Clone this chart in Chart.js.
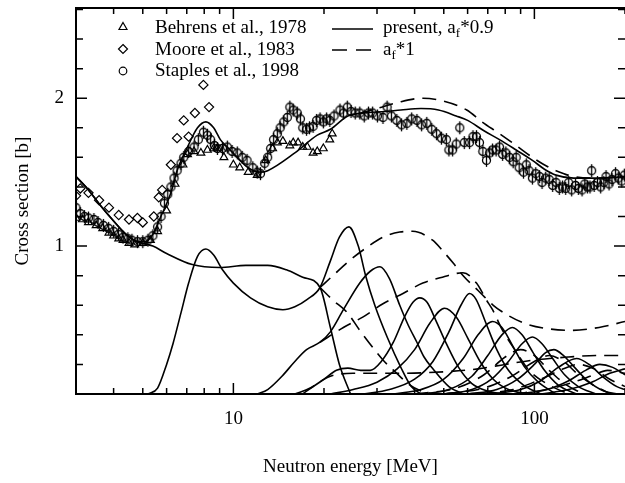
<!DOCTYPE html>
<html>
<head>
<meta charset="utf-8">
<script src="https://cdn.jsdelivr.net/npm/chart.js@4/dist/chart.umd.min.js"></script>
<style>
  body { margin: 0; background: #fff; }
  #wrap { width: 625px; height: 483px; }
</style>
</head>
<body>
<div id="wrap"><canvas id="chart-area" width="625" height="483"></canvas></div>
<script>
// measured points [energy MeV, cross section b]
var behrens = [[3.0,1.19],[3.15,1.18],[3.3,1.16],[3.5,1.14],[3.68,1.12],[3.86,1.09],[4.0,1.07],[4.16,1.05],[4.3,1.04],[4.5,1.02],[4.7,1.01],[5.0,1.02],[5.3,1.04],[5.6,1.1],[6.0,1.24],[6.4,1.42],[6.8,1.55],[7.04,1.62],[7.4,1.64],[7.8,1.63],[8.2,1.65],[8.6,1.66],[8.85,1.66],[9.3,1.6],[10,1.55],[10.5,1.53],[11.2,1.5],[12,1.48],[12.8,1.58],[13.5,1.66],[14.0,1.70],[14.6,1.71],[15.4,1.68],[15.8,1.70],[16.4,1.7],[17.0,1.67],[17.6,1.67],[18.4,1.63],[19.0,1.64],[19.9,1.66],[20.9,1.72],[21.3,1.76]];
var moore = [[3.0,1.34],[3.1,1.39],[3.3,1.36],[3.58,1.31],[3.86,1.26],[4.16,1.21],[4.5,1.18],[4.8,1.19],[5.0,1.16],[5.44,1.2],[5.65,1.33],[5.8,1.38],[6.2,1.55],[6.5,1.73],[6.84,1.85],[7.1,1.74],[7.45,1.9],[7.95,2.09],[8.3,1.94]];
var staples = [[3.0,1.26],[3.1,1.22],[3.2,1.2],[3.3,1.19],[3.44,1.18],[3.55,1.16],[3.7,1.14],[3.85,1.12],[4.0,1.1],[4.15,1.08],[4.3,1.06],[4.46,1.05],[4.6,1.04],[4.8,1.03],[5.0,1.03],[5.2,1.04],[5.4,1.07],[5.6,1.13],[5.75,1.2],[5.9,1.29],[6.05,1.35],[6.2,1.40],[6.35,1.46],[6.5,1.51],[6.7,1.56],[6.84,1.60],[7.1,1.64],[7.4,1.67],[7.65,1.72],[7.95,1.77],[8.2,1.75],[8.4,1.72],[8.65,1.68],[8.85,1.66],[9.2,1.66],[9.55,1.67],[9.9,1.64],[10.3,1.63],[10.7,1.6],[11.1,1.58],[11.6,1.53],[12.0,1.50],[12.3,1.49],[12.7,1.56],[13.0,1.6],[13.3,1.66],[13.6,1.72],[14.0,1.76],[14.3,1.80],[14.7,1.84],[15.1,1.87],[15.4,1.94],[15.8,1.92],[16.3,1.9],[16.7,1.86],[17.0,1.8],[17.5,1.79],[17.9,1.8],[18.4,1.81],[18.9,1.85],[19.4,1.86],[19.9,1.84],[20.4,1.86],[20.9,1.85],[21.6,1.88],[22.6,1.92],[23.2,1.9],[23.9,1.94],[24.6,1.91],[25.4,1.9],[26.3,1.9],[27.2,1.88],[28.1,1.9],[29.0,1.9],[30.1,1.88],[31.4,1.87],[32.4,1.94],[33.5,1.88],[34.9,1.85],[36.2,1.82],[37.7,1.83],[39.1,1.86],[40.7,1.85],[42.2,1.82],[43.9,1.83],[45.6,1.79],[47.3,1.76],[49.1,1.73],[51,1.72],[52,1.65],[53.5,1.65],[55,1.69],[56.5,1.80],[58.5,1.7],[60.9,1.7],[62.5,1.74],[64.2,1.74],[65.7,1.7],[67.4,1.64],[69.3,1.58],[71,1.63],[72.6,1.65],[74.6,1.65],[76.6,1.67],[78.4,1.62],[80.4,1.63],[82.7,1.6],[85,1.57],[87,1.6],[89,1.53],[92,1.5],[94,1.55],[96,1.51],[98.5,1.46],[101,1.49],[104,1.47],[106,1.43],[109,1.46],[112,1.45],[115,1.41],[118,1.43],[121,1.39],[124,1.4],[127,1.39],[130,1.43],[133,1.38],[137,1.41],[140,1.39],[144,1.38],[147,1.42],[150,1.4],[153,1.4],[155,1.51],[158,1.41],[162,1.43],[166,1.4],[170,1.43],[173,1.47],[177,1.42],[181,1.45],[186,1.49],[190,1.46],[195,1.44],[199,1.48]];

// calculated curves, af*0.9 (solid)
var totalSolid = [[3,1.47],[3.3,1.38],[3.6,1.28],[4,1.17],[4.4,1.08],[4.8,1.03],[5.1,1.03],[5.4,1.08],[5.74,1.2],[6.2,1.36],[6.5,1.51],[7.04,1.67],[7.6,1.8],[8.1,1.84],[8.6,1.8],[9.05,1.72],[9.55,1.67],[10.3,1.6],[11.2,1.53],[12.3,1.5],[13,1.51],[16,1.63],[19,1.75],[21,1.79],[24,1.88],[27,1.9],[32,1.91],[36,1.92],[42,1.93],[48,1.92],[55,1.88],[60,1.85],[68,1.78],[76.6,1.72],[87,1.65],[98.5,1.58],[108,1.52],[118,1.48],[135,1.46],[164,1.46],[200,1.47]];
var chance1 = [[3,1.47],[3.3,1.38],[3.6,1.28],[4,1.17],[4.4,1.08],[4.8,1.03],[5.4,1.0],[6,0.95],[7.3,0.875],[9,0.855],[11,0.87],[13,0.87],[15,0.84],[17,0.79],[19.4,0.72],[21,0.45],[22.5,0.2],[24.5,0]];
var chance2 = [[5.2,0],[5.6,0.04],[6.0,0.2],[6.3,0.34],[6.7,0.55],[7.1,0.75],[7.6,0.93],[8.1,0.98],[8.6,0.94],[9.2,0.84],[10,0.75],[11.4,0.65],[13,0.59],[14.6,0.57],[16,0.59],[17.6,0.64],[19.4,0.72],[21,0.9],[22.5,1.06],[24.2,1.13],[26,1.0],[27.5,0.8],[29.5,0.6],[32.5,0.38],[36,0.18],[39,0.05],[42,0]];
var chance3 = [[12,0],[13,0.03],[14.5,0.12],[16,0.22],[17.5,0.3],[19.4,0.35],[21,0.42],[23.2,0.57],[26.3,0.75],[28.5,0.83],[30.7,0.86],[33,0.78],[35.7,0.6],[38,0.47],[40.7,0.35],[43,0.25],[46,0.17],[52,0.05],[58,0]];
var chance4 = [[16,0],[18,0.04],[20,0.1],[22,0.16],[24,0.175],[26.5,0.16],[28.5,0.16],[31,0.22],[34,0.35],[37,0.52],[39.5,0.62],[41.6,0.65],[44,0.62],[47,0.5],[51,0.34],[56,0.18],[62,0.07],[70,0.02],[80,0]];
var chance5 = [[21,0],[25,0.03],[30,0.08],[35,0.17],[40,0.3],[45,0.48],[50.3,0.58],[55,0.52],[60,0.38],[66,0.22],[73,0.1],[82,0.03],[95,0]];
var chance6 = [[27,0],[33,0.03],[40,0.1],[46,0.22],[52,0.42],[57,0.6],[60.9,0.68],[64,0.64],[69,0.48],[75,0.3],[82,0.16],[92,0.06],[105,0]];
var chance7 = [[34,0],[42,0.03],[50,0.1],[58,0.24],[65,0.4],[72.6,0.49],[78,0.45],[85,0.32],[93,0.18],[103,0.08],[118,0]];
var chance8 = [[42,0],[52,0.03],[62,0.12],[70,0.26],[78,0.4],[84.5,0.45],[91,0.4],[99,0.28],[108,0.16],[120,0.06],[138,0]];
var chance9 = [[50,0],[62,0.03],[72,0.1],[82,0.22],[91,0.34],[98.5,0.385],[106,0.34],[115,0.24],[126,0.13],[140,0.05],[160,0]];
var chance10 = [[60,0],[75,0.03],[88,0.1],[100,0.2],[109,0.28],[116,0.3],[125,0.26],[136,0.18],[150,0.09],[170,0.02],[190,0]];
var chance11 = [[72,0],[90,0.03],[105,0.09],[120,0.18],[138,0.24],[152,0.2],[168,0.12],[188,0.05],[200,0.03]];
var chance12 = [[88,0],[110,0.03],[130,0.09],[148,0.16],[165,0.2],[182,0.18],[200,0.13]];
var chance13 = [[105,0],[130,0.03],[155,0.08],[178,0.14],[200,0.17]];

// calculated curves, af*1 (dashed), where they differ from the solid ones
var totalDashed = [[26,1.895],[30,1.93],[35,1.97],[42.6,2.0],[50,1.98],[59.6,1.92],[67,1.84],[76.6,1.76],[87,1.68],[98.5,1.6],[110,1.54],[118,1.51],[135,1.47],[160,1.46],[200,1.47]];
var dashA = [[19.4,0.72],[21.4,0.80],[24.4,0.905],[27.7,0.99],[31.4,1.06],[35.7,1.095],[39.4,1.10],[45.9,1.04],[50,0.96],[54,0.88],[58,0.8],[65,0.7],[73,0.6],[82,0.53],[95,0.47],[112,0.44],[133,0.43],[164,0.45],[200,0.49]];
var dashB = [[19.4,0.72],[21.4,0.635],[23.9,0.55],[26.3,0.43],[28.4,0.34],[31.4,0.23],[34.9,0.14],[38,0.07],[42,0.02],[46,0]];
var dashC = [[19.4,0.35],[23.2,0.45],[26.9,0.52],[31.4,0.61],[36.6,0.68],[42.6,0.75],[49.5,0.79],[57.9,0.82],[64.2,0.75],[69.3,0.635],[72.6,0.57],[78.4,0.43],[86,0.30],[96,0.16],[112,0.06],[130,0]];
var dashD = [[17,0],[19,0.07],[21,0.12],[25,0.14],[35,0.14],[50,0.15],[65,0.17],[80,0.2],[100,0.23],[130,0.25],[160,0.26],[200,0.26]];
var dashE = [[40,0],[55,0.04],[68,0.13],[80,0.25],[90,0.3],[100,0.26],[112,0.16],[126,0.07],[145,0]];
var dashF = [[50,0],[68,0.04],[84,0.12],[100,0.22],[112,0.26],[125,0.22],[140,0.13],[160,0.05],[180,0]];
var dashG = [[65,0],[85,0.03],[105,0.1],[125,0.17],[140,0.2],[158,0.17],[178,0.1],[200,0.05]];
var dashH = [[85,0],[110,0.03],[135,0.08],[158,0.13],[175,0.16],[200,0.14]];

var xTickValues = [3,4,5,6,7,8,9,10,20,30,40,50,60,70,80,90,100,200];
var xTickLabels = [10, 100];
var yTickValues = [0.2,0.4,0.6,0.8,1,1.2,1.4,1.6,1.8,2,2.2,2.4,2.6];
var yTickLabels = [1, 2];

Chart.defaults.font.family = '"Liberation Serif", "Times New Roman", serif';
Chart.defaults.color = '#000';

function pts(arr) {
  return arr.map(function(p) { return {x: p[0], y: p[1]}; });
}
function solid(arr) {
  return {data: pts(arr), borderColor: '#000', borderWidth: 1.6, pointRadius: 0,
          fill: false, cubicInterpolationMode: 'monotone'};
}
function dashed(arr) {
  var d = solid(arr);
  d.borderDash = [14, 8];
  return d;
}
function markers(arr, style, r) {
  return {data: pts(arr), showLine: false, pointStyle: style, pointRadius: r,
          pointBorderWidth: 1.2, pointBorderColor: '#000', borderColor: '#000',
          pointBackgroundColor: 'rgba(0,0,0,0)', backgroundColor: 'rgba(0,0,0,0)'};
}
// keep the plot box where it is in the figure
function noPad(s) {
  s.paddingTop = 0; s.paddingBottom = 0; s.paddingLeft = 0; s.paddingRight = 0;
}

// Staples symbol: open circle with its error bar
var staplesMark = document.createElement('canvas');
staplesMark.width = 11; staplesMark.height = 15;
(function() {
  var g = staplesMark.getContext('2d');
  g.strokeStyle = '#000'; g.lineWidth = 1.3;
  g.beginPath(); g.arc(5.5, 7.5, 4, 0, 2 * Math.PI); g.stroke();
  g.beginPath(); g.moveTo(5.5, 1); g.lineTo(5.5, 14); g.stroke();
})();

var datasets = [
  markers(behrens, 'triangle', 4.5),
  markers(moore, 'rectRot', 4.6),
  markers(staples, staplesMark, 5)
];
[totalSolid, chance1, chance2, chance3, chance4, chance5, chance6, chance7,
 chance8, chance9, chance10, chance11, chance12, chance13].forEach(function(c) { datasets.push(solid(c)); });
[totalDashed, dashA, dashB, dashC, dashD, dashE, dashF, dashG, dashH].forEach(function(c) { datasets.push(dashed(c)); });

// frame with inward ticks, plus the legend
var framePlugin = {
  id: 'frame',
  afterDraw: function(chart) {
    var ctx = chart.ctx, a = chart.chartArea, x = chart.scales.x, y = chart.scales.y;
    ctx.save();
    ctx.strokeStyle = '#000';
    ctx.lineWidth = 2;
    ctx.beginPath();
    ctx.moveTo(a.right, a.top); ctx.lineTo(a.left, a.top);
    ctx.lineTo(a.left, a.bottom); ctx.lineTo(a.right, a.bottom);
    ctx.stroke();
    ctx.lineWidth = 1.5;
    ctx.beginPath();
    yTickValues.forEach(function(v) {
      var p = y.getPixelForValue(v);
      var len = yTickLabels.indexOf(v) >= 0 ? 11 : 7;
      ctx.moveTo(a.left, p); ctx.lineTo(a.left + len, p);
      ctx.moveTo(a.right, p); ctx.lineTo(a.right - len, p);
    });
    xTickValues.forEach(function(v) {
      var p = x.getPixelForValue(v);
      var len = xTickLabels.indexOf(v) >= 0 ? 11 : 6;
      ctx.moveTo(p, a.bottom); ctx.lineTo(p, a.bottom - len);
      ctx.moveTo(p, a.top); ctx.lineTo(p, a.top + len);
    });
    ctx.stroke();

    // legend
    ctx.fillStyle = '#000';
    ctx.lineWidth = 1.2;
    ctx.beginPath();
    ctx.moveTo(123, 22.5); ctx.lineTo(127, 29.5); ctx.lineTo(119, 29.5); ctx.closePath();
    ctx.moveTo(123, 44.5); ctx.lineTo(127.5, 49); ctx.lineTo(123, 53.5); ctx.lineTo(118.5, 49); ctx.closePath();
    ctx.stroke();
    ctx.beginPath();
    ctx.arc(123, 71, 3.8, 0, 2 * Math.PI);
    ctx.stroke();
    ctx.font = '19px "Liberation Serif"';
    ctx.textBaseline = 'alphabetic';
    ctx.fillText('Behrens et al., 1978', 155, 33);
    ctx.fillText('Moore et al., 1983', 155, 55);
    ctx.fillText('Staples et al., 1998', 155, 76);

    ctx.lineWidth = 1.6;
    ctx.beginPath(); ctx.moveTo(332, 29); ctx.lineTo(373, 29); ctx.stroke();
    ctx.setLineDash([15, 9]);
    ctx.beginPath(); ctx.moveTo(332, 50); ctx.lineTo(373, 50); ctx.stroke();
    ctx.setLineDash([]);
    function withSub(base, sub, rest, px, py) {
      ctx.font = '19px "Liberation Serif"';
      ctx.fillText(base, px, py);
      var w = ctx.measureText(base).width;
      ctx.font = '13px "Liberation Serif"';
      ctx.fillText(sub, px + w, py + 4);
      var w2 = ctx.measureText(sub).width;
      ctx.font = '19px "Liberation Serif"';
      ctx.fillText(rest, px + w + w2, py);
    }
    withSub('present, a', 'f', '*0.9', 383, 33);
    withSub('a', 'f', '*1', 383, 55);
    ctx.restore();
  }
};

var config = {
  type: 'line',
  data: {datasets: datasets},
  options: {
    responsive: false,
    animation: false,
    events: [],
    layout: {autoPadding: false, padding: {top: 8, right: 0, left: 0, bottom: 0}},
    plugins: {legend: {display: false}, tooltip: {enabled: false}},
    scales: {
      x: {
        type: 'logarithmic', min: 3, max: 200,
        grid: {display: false, drawTicks: false},
        border: {display: false},
        ticks: {
          autoSkip: false, maxRotation: 0, padding: 14,
          font: {size: 19},
          callback: function(v) { return xTickLabels.indexOf(v) >= 0 ? String(v) : ''; }
        },
        title: {display: true, text: 'Neutron energy [MeV]', font: {size: 19}, padding: {top: 0, bottom: 5}},
        afterFit: function(s) { s.height = 89; noPad(s); }
      },
      y: {
        type: 'linear', min: 0, max: 2.61,
        grid: {display: false, drawTicks: false},
        border: {display: false},
        ticks: {
          stepSize: 1, includeBounds: false, padding: 12,
          font: {size: 19},
          callback: function(v) { return yTickLabels.indexOf(v) >= 0 ? String(v) : ''; }
        },
        title: {display: true, text: 'Cross section [b]', font: {size: 19}, padding: {top: 12, bottom: 0}},
        afterFit: function(s) { s.width = 76; noPad(s); }
      }
    }
  },
  plugins: [framePlugin]
};

window.onload = function() {
  var ctx = document.getElementById('chart-area');
  window.myChart = new Chart(ctx, config);
};
</script>
</body>
</html>
